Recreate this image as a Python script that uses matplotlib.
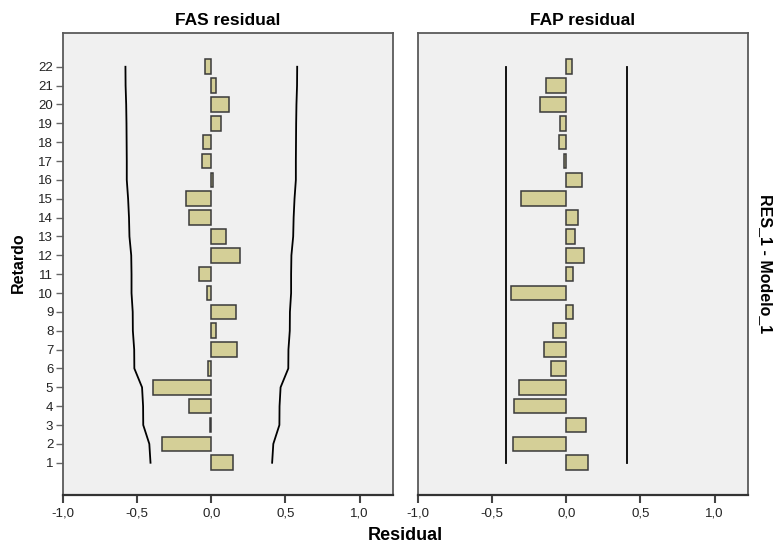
import matplotlib
matplotlib.use("Agg")
import matplotlib.pyplot as plt
from matplotlib.ticker import FuncFormatter

# ---- data ----
lags = list(range(1, 23))
fas_values = [0.146, -0.33, -0.01, -0.148, -0.393, -0.025, 0.175, 0.031, 0.164, -0.027,
              -0.081, 0.195, 0.10, -0.148, -0.173, 0.01, -0.063, -0.054, 0.065, 0.121,
              0.03, -0.045]
fas_bound = [0.41, 0.418, 0.459, 0.46, 0.467, 0.519, 0.52, 0.529, 0.53, 0.538,
             0.538, 0.54, 0.552, 0.555, 0.561, 0.57, 0.57, 0.571, 0.572, 0.574,
             0.578, 0.579]
fap_values = [0.146, -0.358, 0.133, -0.35, -0.32, -0.10, -0.15, -0.09, 0.045, -0.374,
              0.045, 0.122, 0.059, 0.081, -0.306, 0.104, -0.015, -0.047, -0.04, -0.176,
              -0.14, 0.036]
fap_bound = [0.41] * 22
x_ticks = [-1.0, -0.5, 0.0, 0.5, 1.0]
titles = ["FAS residual", "FAP residual"]
x_label = "Residual"
y_label = "Retardo"
side_label = "RES_1 - Modelo_1"

# ---- style ----
bar_face = "#D4CF97"
bar_edge = "#3a3a3a"
panel_bg = "#F0F0F0"
frame_col = "#5a5a5a"
tick_font = "Liberation Sans"

fig = plt.figure(figsize=(7.76, 5.47), dpi=100)
W, H = 776, 547
def rect(x0, x1, y0, y1):
    return [x0 / W, 1 - y1 / H, (x1 - x0) / W, (y1 - y0) / H]

ax1 = fig.add_axes(rect(63, 393, 33, 495))
ax2 = fig.add_axes(rect(418, 748, 33, 495))

fmt = FuncFormatter(lambda v, p: ("%.1f" % v).replace(".", ","))

for i, (ax, vals, bound) in enumerate([(ax1, fas_values, fas_bound), (ax2, fap_values, fap_bound)]):
    ax.set_facecolor(panel_bg)
    ax.barh(lags, vals, height=0.77, color=bar_face, edgecolor=bar_edge, linewidth=1.1, zorder=3)
    ax.plot(bound, lags, color="black", linewidth=1.3, zorder=2)
    ax.plot([-b for b in bound], lags, color="black", linewidth=1.3, zorder=2)
    ax.set_xlim(-1.0, 1.225)
    ax.set_ylim(-0.71, 23.79)
    ax.set_xticks(x_ticks)
    ax.xaxis.set_major_formatter(fmt)
    for s in ax.spines.values():
        s.set_color(frame_col)
        s.set_linewidth(1.3)
    ax.spines["bottom"].set_color("#333333")
    ax.spines["bottom"].set_linewidth(1.6)
    ax.tick_params(axis="x", direction="out", length=6, width=1.5, color="#444444",
                   labelsize=9.5, pad=3, labelcolor="#222222")
    for lab in ax.get_xticklabels():
        lab.set_fontfamily(tick_font)
    ax.set_title(titles[i], fontsize=12.5, fontweight="bold", family="Liberation Sans", pad=6)

ax1.set_yticks(lags)
ax1.set_yticklabels([str(l) for l in lags], fontsize=9.5, family=tick_font, color="#222222")
ax1.tick_params(axis="y", direction="out", length=5, width=1.0, color="#666666", pad=2)
ax2.set_yticks([])

fig.text(405 / W, 1 - 535 / H, x_label, ha="center", va="center", fontsize=13,
         fontweight="bold", family="Liberation Sans")
fig.text(18 / W, 1 - 263 / H, y_label, ha="center", va="center", rotation=90, fontsize=11.5,
         fontweight="bold", family="Liberation Sans")
fig.text(765 / W, 1 - 264 / H, side_label, ha="center", va="center", rotation=-90, fontsize=11.5,
         fontweight="bold", family="Liberation Sans")

fig.savefig("out.png", dpi=100, facecolor="white")
